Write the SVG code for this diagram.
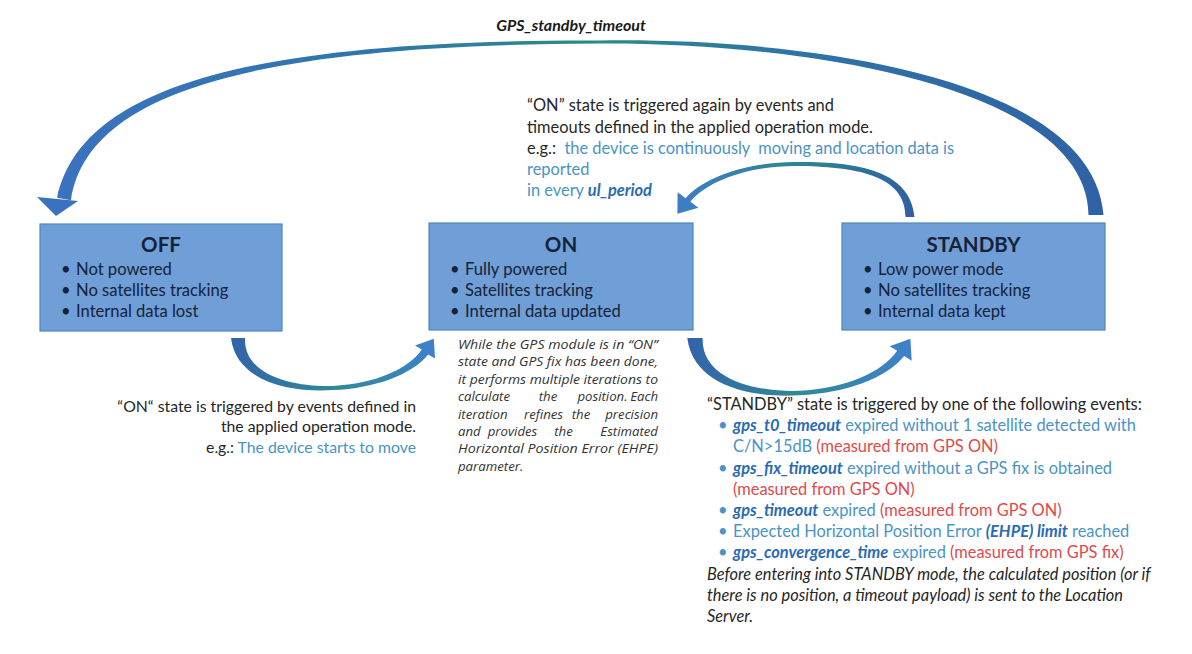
<svg xmlns="http://www.w3.org/2000/svg" width="1192" height="654" viewBox="0 0 1192 654">
<defs>
<style>
text{font-family:Lato,"Liberation Sans",sans-serif}
.box{fill:#6f9fd6;stroke:#4f88bb;stroke-width:1.2}
.title{font-weight:700;font-size:20.5px;fill:#15223a;text-anchor:middle}
.bl{font-size:16.6px;fill:#15223a}
.t{font-size:16.4px;fill:#262626}
.s{font-size:15.8px}
.lb{fill:#4a93c5}
.bi{fill:#2a6bb3;font-weight:700;font-style:italic}
.red{fill:#e04a4a}
.it{font-style:italic}
.ital{font-family:"Open Sans","DejaVu Sans",sans-serif;font-style:italic;font-size:13.2px;fill:#333333}
.mid{text-anchor:middle}
.end{text-anchor:end}
.lbl{font-weight:700;font-style:italic;font-size:16px;fill:#1a1a1a;text-anchor:middle}
</style>
<linearGradient id="gTop" x1="0" y1="0" x2="1" y2="0">
<stop offset="0" stop-color="#3b72bf"/><stop offset="0.3" stop-color="#2f76aa"/><stop offset="0.5" stop-color="#2b8a88"/><stop offset="0.7" stop-color="#2f74a6"/><stop offset="1" stop-color="#2f62a5"/>
</linearGradient>
<linearGradient id="gBot" x1="0" y1="0" x2="1" y2="0">
<stop offset="0" stop-color="#3363aa"/><stop offset="0.5" stop-color="#2f8a96"/><stop offset="1" stop-color="#3f80cc"/>
</linearGradient>
<linearGradient id="gSmall" x1="0" y1="0" x2="1" y2="0">
<stop offset="0" stop-color="#3f7cc6"/><stop offset="0.5" stop-color="#2c878e"/><stop offset="1" stop-color="#2f5fa3"/>
</linearGradient>
</defs>
<rect width="1192" height="654" fill="#ffffff"/>

<g id="connectors">
<path id="arc-standby-off" fill="url(#gTop)" d="M 57.1 197.7 C 81.1 86.6, 249.8 39.5, 600 40.5 C 800.2 37.5, 1092.8 75.3, 1103.5 215 L 1088.5 215 C 1087.2 84.7, 799.8 42.5, 600 43.5 C 250.2 44.5, 86.9 93.4, 70.9 200.3 Z"/>
<polygon fill="#3b72bf" points="37,197 78,201 56,216"/>
<path id="arc-standby-on" fill="url(#gSmall)" d="M 914.5 217 C 910.4 169.5, 855 161.5, 795 162 C 745 162, 701.6 178.7, 685.6 198.2 L 677.6 192.2 L 677.4 213.8 L 698.4 207.8 L 690.4 201.8 C 704.4 183.3, 745 166, 795 166 C 855 166.5, 905.6 174.5, 905.5 217 Z"/>
<path id="arc-off-on" fill="url(#gBot)" d="M 231 338 C 236.6 383.7, 294.8 392.8, 333 390 C 375.1 388.2, 411.8 374.6, 428.2 354.4 L 435 358.6 L 433.8 338.7 L 415 345.4 L 421.8 349.6 C 408.2 369.4, 374.9 383.8, 333 386 C 295.2 387.2, 243.4 376.3, 245 338 Z"/>
<path id="arc-on-standby" fill="url(#gBot)" transform="matrix(1.1 0 0 1.1 433.2 -33.8)" d="M 231 338 C 236.6 383.7, 294.8 392.8, 333 390 C 375.1 388.2, 411.8 374.6, 428.2 354.4 L 435 358.6 L 433.8 338.7 L 415 345.4 L 421.8 349.6 C 408.2 369.4, 374.9 383.8, 333 386 C 295.2 387.2, 243.4 376.3, 245 338 Z"/>
</g>

<g id="node-off">
<rect class="box" x="40" y="224" width="242" height="107"/>
<text class="title" x="161" y="252">OFF</text>
<text class="bl" x="61" y="275">•</text><text class="bl" x="76" y="275">Not powered</text>
<text class="bl" x="61" y="296">•</text><text class="bl" x="76" y="296">No satellites tracking</text>
<text class="bl" x="61" y="317">•</text><text class="bl" x="76" y="317">Internal data lost</text>
</g>

<g id="node-on">
<rect class="box" x="429" y="223" width="264" height="107"/>
<text class="title" x="561" y="252">ON</text>
<text class="bl" x="450" y="275">•</text><text class="bl" x="465" y="275">Fully powered</text>
<text class="bl" x="450" y="296">•</text><text class="bl" x="465" y="296">Satellites tracking</text>
<text class="bl" x="450" y="317">•</text><text class="bl" x="465" y="317">Internal data updated</text>
</g>

<g id="node-standby">
<rect class="box" x="842" y="223" width="263" height="107"/>
<text class="title" x="973.5" y="252">STANDBY</text>
<text class="bl" x="863" y="275">•</text><text class="bl" x="878" y="275">Low power mode</text>
<text class="bl" x="863" y="296">•</text><text class="bl" x="878" y="296">No satellites tracking</text>
<text class="bl" x="863" y="317">•</text><text class="bl" x="878" y="317">Internal data kept</text>
</g>

<g id="label-standby-timeout">
<text class="lbl" x="571" y="31">GPS_standby_timeout</text>
</g>

<g id="note-on-again">
<text class="t" x="527" y="111">“ON” state is triggered again by events and</text>
<text class="t" x="527" y="132.5">timeouts defined in the applied operation mode.</text>
<text class="t" x="527" y="153.5" xml:space="preserve">e.g.:  <tspan class="lb">the device is continuously  moving and location data is</tspan></text>
<text class="t lb" x="527" y="174.5">reported</text>
<text class="t lb" x="527" y="195.5">in every <tspan class="bi">ul_period</tspan></text>
</g>

<g id="note-off-on">
<text class="t s" x="416" y="412" text-anchor="end">“ON“ state is triggered by events defined in</text>
<text class="t s" x="416" y="432" text-anchor="end">the applied operation mode.</text>
<text class="t s" x="416" y="453" text-anchor="end">e.g.: <tspan class="lb">The device starts to move</tspan></text>
</g>

<g id="note-on-iterations">
<text class="ital" x="458" y="349" textLength="200" lengthAdjust="spacingAndGlyphs">While the GPS module is in “ON”</text>
<text class="ital" x="458" y="366.4" textLength="200" lengthAdjust="spacingAndGlyphs">state and GPS fix has been done,</text>
<text class="ital" x="458" y="383.8" textLength="200" lengthAdjust="spacingAndGlyphs">it performs multiple iterations to</text>
<text class="ital" y="401.2"><tspan x="458">calculate</tspan><tspan class="mid" x="548">the</tspan><tspan class="mid" x="602.5">position.</tspan><tspan class="end" x="658">Each</tspan></text>
<text class="ital" y="418.6"><tspan x="458">iteration</tspan><tspan class="mid" x="543.5">refines</tspan><tspan class="mid" x="581">the</tspan><tspan class="end" x="658">precision</tspan></text>
<text class="ital" y="436"><tspan x="458">and</tspan><tspan class="mid" x="512.5">provides</tspan><tspan class="mid" x="563.5">the</tspan><tspan class="end" x="658">Estimated</tspan></text>
<text class="ital" x="458" y="453.4" textLength="200" lengthAdjust="spacingAndGlyphs">Horizontal Position Error (EHPE)</text>
<text class="ital" x="458" y="470.8">parameter.</text>
</g>

<g id="note-standby-events">
<text class="t" x="707" y="410">“STANDBY” state is triggered by one of the following events:</text>
<text class="t lb" x="718" y="431.2">•</text>
<text class="t" x="733" y="431.2"><tspan class="bi">gps_t0_timeout</tspan><tspan class="lb"> expired without 1 satellite detected with</tspan></text>
<text class="t" x="733" y="452.4"><tspan class="lb">C/N&gt;15dB </tspan><tspan class="red">(measured from GPS ON)</tspan></text>
<text class="t lb" x="718" y="473.6">•</text>
<text class="t" x="733" y="473.6"><tspan class="bi">gps_fix_timeout</tspan><tspan class="lb"> expired without a GPS fix is obtained</tspan></text>
<text class="t red" x="733" y="494.8">(measured from GPS ON)</text>
<text class="t lb" x="718" y="516">•</text>
<text class="t" x="733" y="516"><tspan class="bi">gps_timeout</tspan><tspan class="lb"> expired </tspan><tspan class="red">(measured from GPS ON)</tspan></text>
<text class="t lb" x="718" y="537.2">•</text>
<text class="t" x="733" y="537.2"><tspan class="lb">Expected Horizontal Position Error </tspan><tspan class="bi">(EHPE) limit</tspan><tspan class="lb"> reached</tspan></text>
<text class="t lb" x="718" y="558.4">•</text>
<text class="t" x="733" y="558.4"><tspan class="bi">gps_convergence_time</tspan><tspan class="lb"> expired </tspan><tspan class="red">(measured from GPS fix)</tspan></text>
<text class="t it" x="707" y="579.6">Before entering into STANDBY mode, the calculated position (or if</text>
<text class="t it" x="707" y="600.8">there is no position, a timeout payload) is sent to the Location</text>
<text class="t it" x="707" y="622">Server.</text>
</g>
</svg>
